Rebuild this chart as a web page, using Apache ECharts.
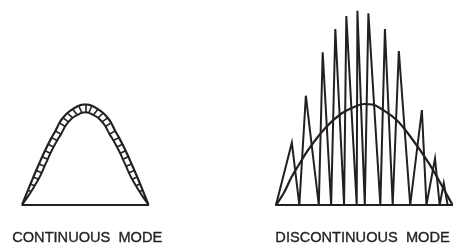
<!DOCTYPE html>
<html>
<head>
<meta charset="utf-8">
<script src="https://cdn.jsdelivr.net/npm/echarts@6/dist/echarts.min.js"></script>
<style>html,body{margin:0;padding:0;background:#fff;}#c{width:453px;height:249px;}</style>
</head>
<body>
<div id="c"></div>
<script>
// ---- Continuous mode (phase in degrees, current in % of peak) ----
var ccmOuterPhase = [0, 4.1, 8.1, 11.7, 15.8, 19.8, 23.9, 28.4, 32.4, 36.9, 41.9, 47.3, 53.1, 58.1, 64.4, 72.0, 80.6, 90,
  99.4, 108.0, 115.6, 121.9, 126.9, 132.7, 138.1, 143.1, 147.6, 151.6, 156.1, 160.2, 164.2, 168.3, 171.9, 175.9, 180];
var ccmOuterCurrent = [0, 7.1, 14.1, 20.3, 27.2, 33.9, 40.4, 47.5, 53.6, 60.0, 66.7, 73.4, 81.5, 86.5, 91.3, 95.1, 98.6, 100,
  98.6, 95.1, 91.3, 86.5, 81.5, 73.4, 66.7, 60.0, 53.6, 47.5, 40.4, 33.9, 27.2, 20.3, 14.1, 7.1, 0];
var ccmInnerPhase = [0, 6.7, 12.7, 17.7, 23.1, 27.7, 31.7, 36.3, 40.1, 44.7, 49.8, 55.3, 61.1, 66.0, 71.9, 78.6, 85.0, 90,
  95.0, 101.4, 108.1, 114.0, 118.9, 124.7, 130.2, 135.3, 139.9, 143.7, 148.3, 152.3, 156.9, 162.3, 167.3, 173.3, 180];
var ccmInnerCurrent = [0, 6.4, 12.8, 18.6, 25.1, 31.5, 38.0, 45.0, 51.0, 57.3, 63.8, 70.1, 77.8, 82.4, 86.5, 89.3, 91.6, 92.0,
  91.6, 89.3, 86.5, 82.4, 77.8, 70.1, 63.8, 57.3, 51.0, 45.0, 38.0, 31.5, 25.1, 18.6, 12.8, 6.4, 0];

// ---- Discontinuous mode ----
var dcmPhase = [0, 16.3, 24, 30.7, 44, 48, 56.7, 61, 70, 72.3, 83, 83.7, 91.3, 95, 107.3, 112, 120, 126.3, 138, 150, 154.7, 163.5, 168.3, 172.5, 176.5];
var dcmCurrent = [0, 62.3, 0, 109.3, 0, 152.7, 0, 176, 0, 189, 0, 194.3, 0, 191.7, 0, 176, 0, 154, 0, 95, 0, 46.5, 0, 22, 0];
var dcmAvgPhase = [0, 8, 16, 24, 33, 50.7, 67.3, 84, 91, 99, 107.3, 124, 140.7, 157.3, 167.3, 177, 181.5];
var dcmAvgCurrent = [0, 12, 28, 41, 55, 77, 91.5, 99.5, 101, 100.5, 96.7, 85, 65, 41.7, 25, 8, 0];

var labels = ['CONTINUOUS  MODE', 'DISCONTINUOUS  MODE'];

var INK = '#231f20';
function pairs(xs, ys) { return xs.map(function (x, i) { return [x, ys[i]]; }); }
var hatches = ccmOuterPhase.map(function (x, i) {
  return { coords: [[x, ccmOuterCurrent[i]], [ccmInnerPhase[i], ccmInnerCurrent[i]]] };
});

var axisX = function (max) {
  return { type: 'value', min: 0, max: max, axisLine: { show: true, lineStyle: { color: INK, width: 2 } },
    axisTick: { show: false }, axisLabel: { show: false }, splitLine: { show: false } };
};
var axisY = function (max) {
  return { type: 'value', min: 0, max: max, show: false, splitLine: { show: false } };
};
var textStyle = function (t) {
  return { text: t, fill: INK, stroke: INK, lineWidth: 0.35, font: '14.6px "Liberation Sans", Arial, sans-serif', align: 'center', verticalAlign: 'middle' };
};

var chart = echarts.init(document.getElementById('c'), null, { renderer: 'canvas' });
chart.setOption({
  animation: false,
  backgroundColor: '#fff',
  grid: [
    { left: 22.3, top: 104.3, width: 126, height: 100 },
    { left: 276, top: 5, width: 182, height: 200 }
  ],
  xAxis: [Object.assign({ gridIndex: 0 }, axisX(180)), Object.assign({ gridIndex: 1 }, axisX(182))],
  yAxis: [Object.assign({ gridIndex: 0 }, axisY(100)), Object.assign({ gridIndex: 1 }, axisY(200))],
  series: [
    { type: 'line', xAxisIndex: 0, yAxisIndex: 0, data: pairs(ccmOuterPhase, ccmOuterCurrent), smooth: 0.3,
      symbol: 'none', lineStyle: { color: INK, width: 2.2 } },
    { type: 'line', xAxisIndex: 0, yAxisIndex: 0, data: pairs(ccmInnerPhase, ccmInnerCurrent), smooth: 0.3,
      symbol: 'none', lineStyle: { color: INK, width: 2 } },
    { type: 'lines', coordinateSystem: 'cartesian2d', xAxisIndex: 0, yAxisIndex: 0, data: hatches,
      lineStyle: { color: INK, width: 1.6, opacity: 1 } },
    { type: 'line', xAxisIndex: 1, yAxisIndex: 1, data: pairs(dcmPhase, dcmCurrent),
      symbol: 'none', lineStyle: { color: INK, width: 2, join: 'miter' } },
    { type: 'line', xAxisIndex: 1, yAxisIndex: 1, data: pairs(dcmAvgPhase, dcmAvgCurrent), smooth: 0.4,
      symbol: 'none', lineStyle: { color: INK, width: 2.2 } }
  ],
  graphic: [
    { type: 'text', x: 87.2, y: 237.5, style: textStyle(labels[0]) },
    { type: 'text', x: 362.5, y: 237.5, style: textStyle(labels[1]) }
  ]
});
</script>
</body>
</html>
